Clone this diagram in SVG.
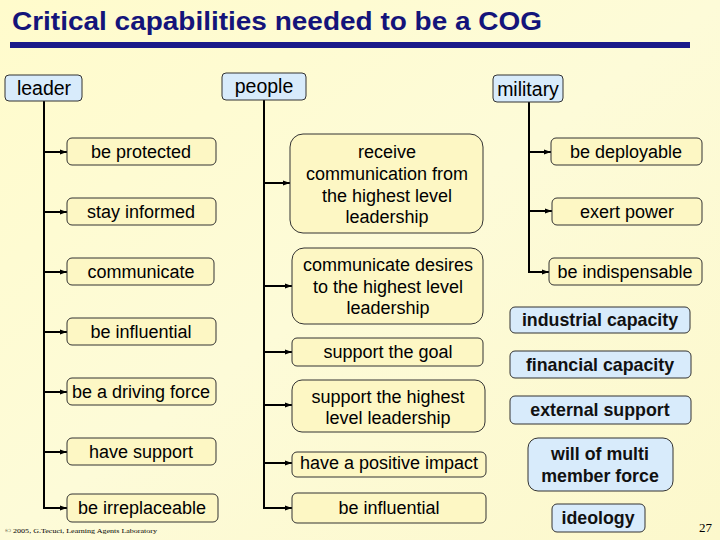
<svg xmlns="http://www.w3.org/2000/svg" width="720" height="540" viewBox="0 0 720 540">
<defs>
<linearGradient id="bg" x1="0" y1="0" x2="1" y2="1">
<stop offset="0" stop-color="#fffbcc"/>
<stop offset="0.5" stop-color="#fdfbd8"/>
<stop offset="1" stop-color="#fcf8cc"/>
</linearGradient>
<marker id="ah" markerWidth="7" markerHeight="6" refX="7" refY="3" orient="auto" markerUnits="userSpaceOnUse">
<path d="M0,0.5 L7,3 L0,5.5 Z" fill="#000"/>
</marker>
<style>
.y{fill:#fdf7c4;stroke:#333;stroke-width:1}
.b{fill:#d8ebfb;stroke:#333;stroke-width:1}
.t{font-family:"Liberation Sans",Arial,sans-serif;font-size:18px;fill:#000;text-anchor:middle;dominant-baseline:central}
.h{font-size:19.5px}
.tb{font-family:"Liberation Sans",Arial,sans-serif;font-size:17.8px;font-weight:bold;fill:#111;text-anchor:middle;dominant-baseline:central}
.ln{stroke:#000;stroke-width:2;fill:none}
.ar{stroke:#000;stroke-width:2;fill:none;marker-end:url(#ah)}
</style>
</defs>
<rect width="720" height="540" fill="url(#bg)"/>
<text x="12" y="30" font-family="Liberation Sans,Arial,sans-serif" font-size="25.5" font-weight="bold" fill="#14147a" textLength="530" lengthAdjust="spacingAndGlyphs">Critical capabilities needed to be a COG</text>
<rect x="10" y="42" width="680" height="6" fill="#1a1a8a"/>

<g id="connectors">
<path class="ln" d="M44,101 V508"/>
<path class="ar" d="M44,152 H67"/>
<path class="ar" d="M44,212 H67"/>
<path class="ar" d="M44,272 H67"/>
<path class="ar" d="M44,332 H67"/>
<path class="ar" d="M44,392 H67"/>
<path class="ar" d="M44,452 H67"/>
<path class="ar" d="M43,508 H67"/>
<path class="ln" d="M264,100 V508"/>
<path class="ar" d="M264,183 H290"/>
<path class="ar" d="M264,286 H292"/>
<path class="ar" d="M264,352 H292"/>
<path class="ar" d="M264,405 H292"/>
<path class="ar" d="M264,463 H292"/>
<path class="ar" d="M263,508 H292"/>
<path class="ln" d="M529,102 V272"/>
<path class="ar" d="M529,152 H551"/>
<path class="ar" d="M529,211 H552"/>
<path class="ar" d="M528,272 H549"/>
</g>

<g id="leader"><rect class="b" x="5" y="75" width="77" height="26" rx="4"/><text class="t h" x="44" y="88">leader</text></g>
<g id="people"><rect class="b" x="222" y="73" width="84" height="27" rx="4"/><text class="t h" x="264" y="86">people</text></g>
<g id="military"><rect class="b" x="493" y="75" width="70" height="27" rx="4"/><text class="t h" x="528" y="89">military</text></g>

<g id="be-protected"><rect class="y" x="67" y="138" width="149" height="27" rx="5"/><text class="t" x="141" y="152">be protected</text></g>
<g id="stay-informed"><rect class="y" x="67" y="198" width="149" height="27" rx="5"/><text class="t" x="141" y="212">stay informed</text></g>
<g id="communicate"><rect class="y" x="67" y="258" width="147" height="27" rx="5"/><text class="t" x="141" y="272">communicate</text></g>
<g id="be-influential-l"><rect class="y" x="67" y="318" width="149" height="27" rx="5"/><text class="t" x="141" y="332">be influential</text></g>
<g id="driving-force"><rect class="y" x="67" y="378" width="149" height="27" rx="5"/><text class="t" x="141" y="392">be a driving force</text></g>
<g id="have-support"><rect class="y" x="67" y="438" width="149" height="27" rx="5"/><text class="t" x="141" y="452">have support</text></g>
<g id="be-irreplaceable"><rect class="y" x="67" y="494" width="151" height="28" rx="5"/><text class="t" x="142" y="508">be irreplaceable</text></g>

<g id="receive"><rect class="y" x="290" y="134" width="193" height="99" rx="13"/>
<text class="t" x="387" y="152">receive</text><text class="t" x="387" y="174">communication from</text><text class="t" x="387" y="196">the highest level</text><text class="t" x="387" y="217">leadership</text></g>
<g id="communicate-desires"><rect class="y" x="292" y="248" width="191" height="76" rx="12"/>
<text class="t" x="388" y="265">communicate desires</text><text class="t" x="388" y="287">to the highest level</text><text class="t" x="388" y="308">leadership</text></g>
<g id="support-goal"><rect class="y" x="292" y="338" width="191" height="28" rx="5"/><text class="t" x="388" y="352">support the goal</text></g>
<g id="support-highest"><rect class="y" x="292" y="380" width="193" height="52" rx="10"/>
<text class="t" x="388" y="397">support the highest</text><text class="t" x="388" y="418">level leadership</text></g>
<g id="positive-impact"><rect class="y" x="292" y="452" width="194" height="25" rx="5"/><text class="t" x="389" y="463">have a positive impact</text></g>
<g id="be-influential-p"><rect class="y" x="292" y="493" width="194" height="30" rx="5"/><text class="t" x="389" y="508">be influential</text></g>

<g id="be-deployable"><rect class="y" x="551" y="138" width="151" height="27" rx="5"/><text class="t" x="626" y="152">be deployable</text></g>
<g id="exert-power"><rect class="y" x="552" y="198" width="150" height="27" rx="5"/><text class="t" x="627" y="212">exert power</text></g>
<g id="be-indispensable"><rect class="y" x="549" y="258" width="153" height="27" rx="5"/><text class="t" x="625" y="272">be indispensable</text></g>

<g id="industrial-capacity"><rect class="b" x="510" y="307" width="180" height="26" rx="5"/><text class="tb" x="600" y="320">industrial capacity</text></g>
<g id="financial-capacity"><rect class="b" x="510" y="351" width="181" height="27" rx="5"/><text class="tb" x="600" y="365">financial capacity</text></g>
<g id="external-support"><rect class="b" x="510" y="396" width="181" height="28" rx="5"/><text class="tb" x="600" y="410">external support</text></g>
<g id="will-multi"><rect class="b" x="528" y="438" width="145" height="53" rx="10"/>
<text class="tb" x="600" y="454">will of multi</text><text class="tb" x="600" y="476">member force</text></g>
<g id="ideology"><rect class="b" x="552" y="504" width="93" height="28" rx="5"/><text class="tb" x="598" y="518">ideology</text></g>

<text x="5" y="533" font-family="Liberation Serif,serif" font-size="7" fill="#000" textLength="152" lengthAdjust="spacingAndGlyphs">© 2005, G.Tecuci, Learning Agents Laboratory</text>
<text x="712" y="532" font-family="Liberation Serif,serif" font-size="13" fill="#000" text-anchor="end">27</text>
</svg>
